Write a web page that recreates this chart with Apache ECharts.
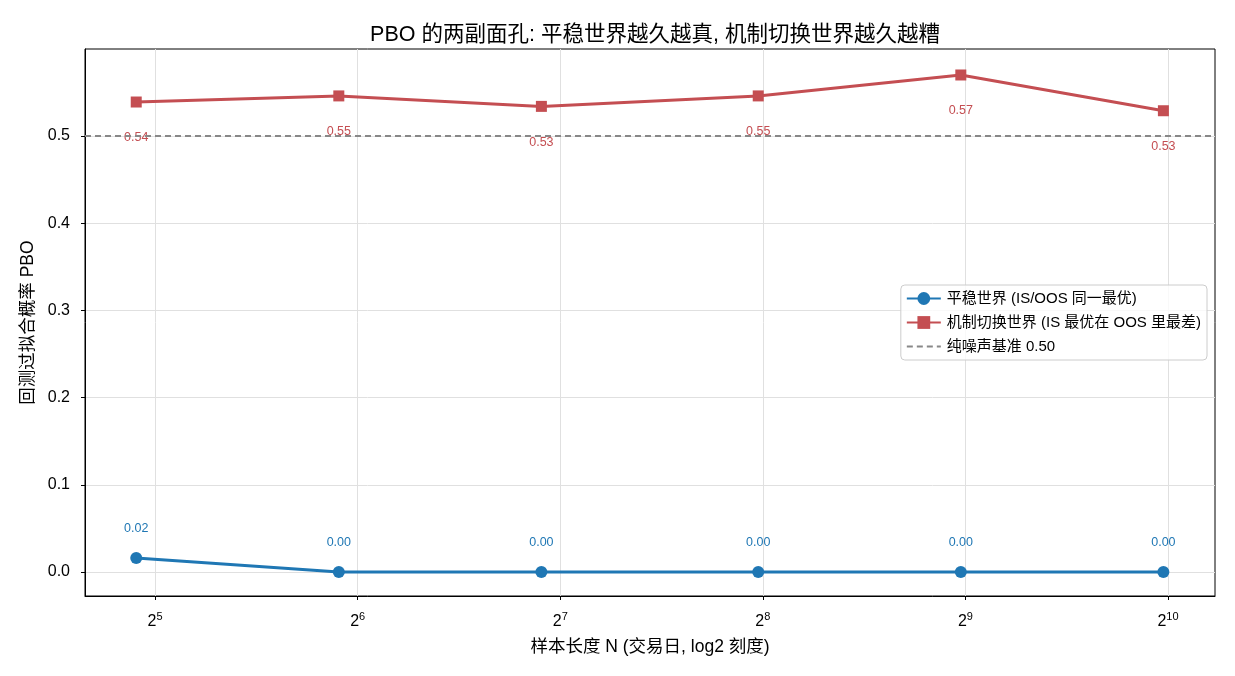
<!DOCTYPE html>
<html>
<head>
<meta charset="utf-8">
<script src="https://cdn.jsdelivr.net/npm/echarts@6/dist/echarts.min.js"></script>
<style>
  html, body { margin: 0; padding: 0; background: #fff; }
  #chart { width: 1235px; height: 676px; }
</style>
</head>
<body>
<div id="chart"></div>
<script>
// sample length N in trading days (plotted on a log2 axis)
var sampleN = [30, 60, 120, 252, 504, 1008];
// PBO per world
var stablePBO = [0.016, 0.0, 0.0, 0.0, 0.0, 0.0];
var regimePBO = [0.539, 0.546, 0.534, 0.546, 0.570, 0.529];
var noiseLevel = 0.5;
// tick labels
var xTickExponents = [5, 6, 7, 8, 9, 10];
var yTicks = [0, 0.1, 0.2, 0.3, 0.4, 0.5];

var seriesNames = [
    "平稳世界 (IS/OOS 同一最优)",
    "机制切换世界 (IS 最优在 OOS 里最差)",
    "纯噪声基准 0.50"
];

var blue = "#1f77b4";
var red = "#c44e52";
var font = "'Liberation Sans', 'Noto Sans CJK SC', sans-serif";

function toPoints(values) {
    return sampleN.map(function(n, i) {
        return [Math.log2(n), values[i]];
    });
}

var chart = echarts.init(document.getElementById("chart"));

var option = {
    animation: false,
    textStyle: { fontFamily: font },
    title: {
        text: "PBO 的两副面孔: 平稳世界越久越真, 机制切换世界越久越糟",
        left: 650,
        textAlign: "center",
        top: 19,
        textStyle: { fontSize: 21.5, fontWeight: "normal", color: "#000", fontFamily: font }
    },
    grid: {
        left: 85,
        right: 20,
        top: 49,
        bottom: 80,
        show: true,
        borderColor: "#000",
        borderWidth: 1
    },
    legend: {
        orient: "vertical",
        right: 28,
        top: 285,
        padding: [6, 6, 6, 5],
        itemGap: 9,
        itemWidth: 34,
        itemHeight: 16,
        backgroundColor: "rgba(255,255,255,0.8)",
        borderColor: "#ccc",
        borderWidth: 1,
        borderRadius: 4,
        textStyle: { fontSize: 15, color: "#000", fontFamily: font, padding: [0, 0, 0, 1] },
        data: [
            { name: seriesNames[0] },
            { name: seriesNames[1] },
            { name: seriesNames[2], itemStyle: { opacity: 0 } }
        ]
    },
    xAxis: {
        type: "value",
        min: 4.654,
        max: 10.232,
        name: "样本长度 N (交易日, log2 刻度)",
        nameLocation: "middle",
        nameGap: 42,
        nameTextStyle: { fontSize: 17.5, color: "#000" },
        axisLine: { show: true, onZero: false, lineStyle: { color: "#000" } },
        axisTick: { show: true, length: 4, lineStyle: { color: "#000" }, customValues: xTickExponents },
        axisLabel: {
            customValues: xTickExponents,
            margin: 15,
            color: "#000",
            formatter: function(v) { return "{b|2}{sup|" + v + "}"; },
            rich: {
                b: { fontSize: 16, color: "#000" },
                sup: { fontSize: 11, color: "#000", padding: [0, 0, 10, 0] }
            }
        },
        splitLine: { show: true, lineStyle: { color: "#e0e0e0", width: 1 } }
    },
    yAxis: {
        type: "value",
        min: -0.0275,
        max: 0.5998,
        name: "回测过拟合概率 PBO",
        nameLocation: "middle",
        nameGap: 44,
        nameTextStyle: { fontSize: 17.5, color: "#000" },
        axisLine: { show: true, onZero: false, lineStyle: { color: "#000" } },
        axisTick: { show: true, length: 4, lineStyle: { color: "#000" }, customValues: yTicks },
        axisLabel: {
            customValues: yTicks,
            margin: 15,
            fontSize: 16,
            color: "#000",
            formatter: function(v) { return v.toFixed(1); }
        },
        splitLine: { show: true, lineStyle: { color: "#e0e0e0", width: 1 } }
    },
    series: [
        {
            name: seriesNames[0],
            type: "line",
            data: toPoints(stablePBO),
            symbol: "circle",
            symbolSize: 12,
            itemStyle: { color: blue },
            lineStyle: { color: blue, width: 3 },
            label: {
                show: true,
                position: "top",
                distance: 17,
                fontSize: 12.5,
                color: blue,
                formatter: function(p) { return p.value[1].toFixed(2); }
            },
            z: 3
        },
        {
            name: seriesNames[1],
            type: "line",
            data: toPoints(regimePBO),
            symbol: "rect",
            symbolSize: 11,
            itemStyle: { color: red },
            lineStyle: { color: red, width: 3 },
            label: {
                show: true,
                position: "bottom",
                distance: 24,
                fontSize: 12.5,
                color: red,
                formatter: function(p) { return p.value[1].toFixed(2); }
            },
            z: 3
        },
        {
            name: seriesNames[2],
            type: "line",
            data: [],
            symbol: "none",
            itemStyle: { color: "#888" },
            lineStyle: { color: "#888", width: 2, type: [6, 4] },
            markLine: {
                silent: true,
                symbol: "none",
                label: { show: false },
                lineStyle: { color: "#888", width: 2, type: [6, 4] },
                data: [{ yAxis: noiseLevel }]
            },
            z: 2
        }
    ]
};

chart.setOption(option);
</script>
</body>
</html>
